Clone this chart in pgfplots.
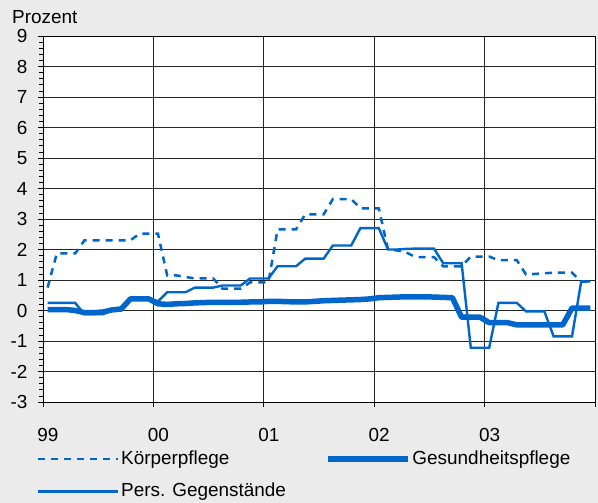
\documentclass[border=0pt]{standalone}
\usepackage{fontspec}
\setmainfont{Liberation Sans}
\usepackage{pgfplots}
\pgfplotsset{compat=1.18}
\definecolor{ln}{RGB}{0,102,204}
\definecolor{bgc}{RGB}{235,235,235}

% monthly values Jan 1999 .. Dec 2003, plotted at month centres
\pgfplotstableread{
x    koerper  gesund  pers
0.5  0.75   0.03   0.25
1.5  1.87   0.03   0.25
2.5  1.87   0.03   0.25
3.5  1.87   0.00   0.25
4.5  2.30  -0.07  -0.12
5.5  2.30  -0.07  -0.12
6.5  2.30  -0.05  -0.12
7.5  2.30   0.02   0.00
8.5  2.30   0.05   0.00
9.5  2.30   0.38   0.40
10.5 2.52   0.38   0.40
11.5 2.52   0.38   0.40
12.5 2.52   0.22   0.30
13.5 1.15   0.20   0.60
14.5 1.15   0.22   0.60
15.5 1.10   0.23   0.60
16.5 1.05   0.25   0.75
17.5 1.05   0.26   0.75
18.5 1.05   0.27   0.75
19.5 0.72   0.27   0.82
20.5 0.72   0.27   0.82
21.5 0.72   0.27   0.82
22.5 0.92   0.28   1.05
23.5 0.92   0.28   1.05
24.5 0.92   0.30   1.05
25.5 2.66   0.30   1.45
26.5 2.66   0.29   1.45
27.5 2.66   0.28   1.45
28.5 3.15   0.28   1.70
29.5 3.15   0.30   1.70
30.5 3.15   0.32   1.70
31.5 3.65   0.33   2.13
32.5 3.65   0.34   2.13
33.5 3.65   0.35   2.13
34.5 3.35   0.36   2.70
35.5 3.35   0.38   2.70
36.5 3.35   0.42   2.70
37.5 2.00   0.43   2.00
38.5 1.97   0.44   2.00
39.5 1.90   0.45   2.02
40.5 1.75   0.45   2.03
41.5 1.75   0.45   2.03
42.5 1.75   0.44   2.03
43.5 1.45   0.43   1.55
44.5 1.45   0.42   1.55
45.5 1.45  -0.22   1.55
46.5 1.77  -0.22  -1.22
47.5 1.77  -0.22  -1.22
48.5 1.77  -0.40  -1.22
49.5 1.65  -0.40   0.25
50.5 1.65  -0.40   0.25
51.5 1.65  -0.47   0.25
52.5 1.18  -0.47  -0.03
53.5 1.20  -0.47  -0.03
54.5 1.22  -0.47  -0.03
55.5 1.24  -0.47  -0.85
56.5 1.24  -0.47  -0.85
57.5 1.24   0.08  -0.85
58.5 0.95   0.08   0.95
59.5 0.95   0.08   0.95
}\datatable

\begin{document}
\begin{tikzpicture}
\fontsize{19}{22}\selectfont
\fill[bgc] (0,0) rectangle (598bp,503bp);
\path[use as bounding box] (0,0) rectangle (598bp,503bp);
\begin{axis}[
  at={(43bp,101bp)}, anchor=south west,
  scale only axis,
  width=552bp, height=366bp,
  xmin=0, xmax=60, ymin=-3, ymax=9,
  xtick={0,12,...,60},
  xticklabels={99,00,01,02,03,},
  ytick={-3,-2,...,9},
  minor y tick num=4,
  tick pos=left,
  tick align=outside,
  major tick length=5bp,
  minor tick length=4bp,
  tick style={black, line width=0.8bp},
  axis line style={black, line width=1bp},
  axis background/.style={fill=white},
  grid=major,
  major grid style={black!85, line width=0.8bp},
  /pgf/number format/assume math mode=true,
  tick label style={font=\fontsize{19}{22}\selectfont},
  xticklabel style={yshift=-15bp, xshift=5bp},
  yticklabel style={xshift=-4bp},
  legend columns=2,
  legend cell align=left,
  legend image code/.code={\draw[#1] (0bp,0bp) -- (80bp,0bp);},
  legend style={
    at={(rel axis cs:-0.011,-0.128)}, anchor=north west,
    draw=none, fill=none, inner sep=0pt,
    font=\fontsize{19}{22}\selectfont,
    row sep=13bp,
    /tikz/every even column/.append style={column sep=38bp},
    nodes={inner sep=1.5bp},
  },
]
\addplot[ln, line width=2.5bp, dash pattern=on 7bp off 6bp] table[x=x, y=koerper] {\datatable};
\addlegendentry{Körperpflege}
\addplot[ln, line width=5.5bp, line join=round] table[x=x, y=gesund] {\datatable};
\addlegendentry{Gesundheitspflege}
\addplot[ln, line width=2.4bp] table[x=x, y=pers] {\datatable};
\addlegendentry{Pers. Gegenstände}
\end{axis}
\node[anchor=base west, inner sep=0pt] at (12bp,479bp) {Prozent};
\end{tikzpicture}
\end{document}
